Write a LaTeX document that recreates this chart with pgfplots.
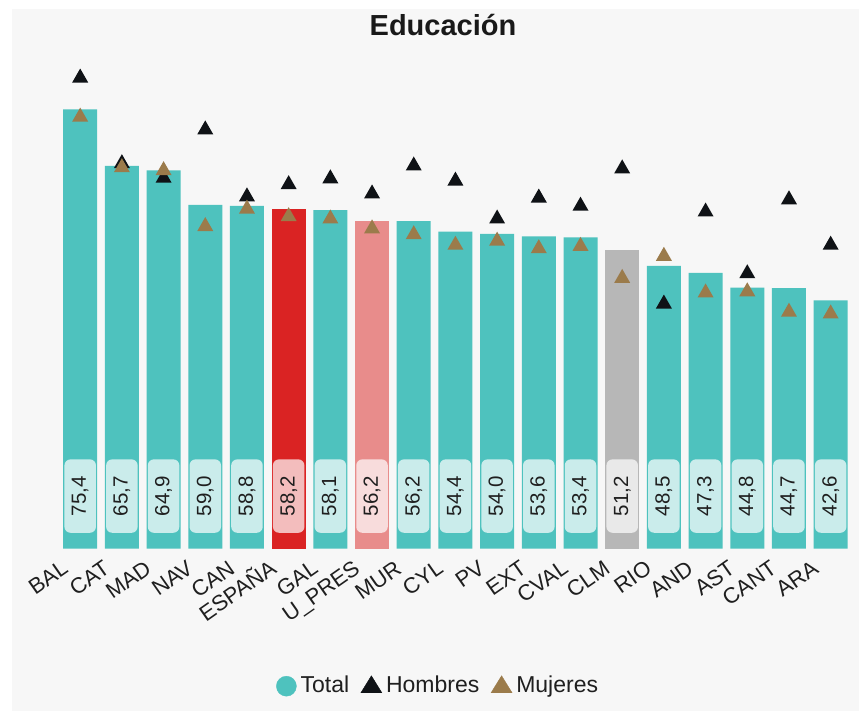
\documentclass[border=0pt]{standalone}
\usepackage{pgfplots}
\pgfplotsset{compat=1.18}
\usepackage{pgfplotstable}
\usepackage{fontspec}
\setmainfont{Liberation Sans}
\definecolor{tealc}{HTML}{4EC2BE}
\definecolor{redc}{HTML}{DA2323}
\definecolor{pinkc}{HTML}{E88C8B}
\definecolor{grayc}{HTML}{B7B7B7}
\definecolor{panel}{HTML}{F7F7F7}
\definecolor{hcol}{HTML}{0F1216}
\definecolor{mcol}{HTML}{9B7B4B}
\definecolor{txt}{HTML}{1F1F1F}
\pgfdeclareplotmark{htri}{%
  \pgfpathmoveto{\pgfqpoint{0pt}{7pt}}%
  \pgfpathlineto{\pgfqpoint{8pt}{-7pt}}%
  \pgfpathlineto{\pgfqpoint{-8pt}{-7pt}}%
  \pgfpathclose\pgfusepathqfill}
\pgfplotstableread{
x total hombres mujeres ly lab
0  75.4 81.2 74.5 9.0 75,4
1  65.7 66.5 65.8 9.0 65,7
2  64.9 64.0 65.3 9.0 64,9
3  59.0 72.3 55.7 9.0 59,0
4  58.8 60.8 58.7 9.0 58,8
5  58.2 62.9 57.4 9.0 58,2
6  58.1 63.9 57.0 9.0 58,1
7  56.2 61.3 55.3 9.0 56,2
8  56.2 66.1 54.3 9.0 56,2
9  54.4 63.5 52.5 9.0 54,4
10 54.0 57.0 53.2 9.0 54,0
11 53.6 60.6 51.9 9.0 53,6
12 53.4 59.2 52.3 9.0 53,4
13 51.2 65.6 46.8 9.0 51,2
14 48.5 42.4 50.6 9.0 48,5
15 47.3 58.2 44.3 9.0 47,3
16 44.8 47.6 44.5 9.0 44,8
17 44.7 60.3 41.0 9.0 44,7
18 42.6 52.5 40.7 9.0 42,6
}\datatab
\begin{document}
\begin{tikzpicture}
\fill[white] (-59.35pt,-163.5pt) rectangle (799.65pt,548.5pt);
\fill[panel] (-47.35pt,-162.5pt) rectangle (799.65pt,539.5pt);
\begin{axis}[
  at={(0pt,0pt)}, anchor=south west,
  scale only axis, width=792.15pt, height=495.125pt,
  xmin=-0.5, xmax=18.5, ymin=0, ymax=85,
  clip=false,
  axis line style={draw=none},
  tick style={draw=none},
  major tick length=0pt,
  ytick=\empty,
  xtick={0,...,18},
  xticklabels={BAL,CAT,MAD,NAV,CAN,ESPAÑA,GAL,U\_PRES,MUR,CYL,PV,EXT,CVAL,CLM,RIO,AND,AST,CANT,ARA},
  xticklabel style={font=\fontsize{22}{26}\selectfont, text=txt, inner sep=0pt,
    text height=16pt, text depth=0pt, anchor=north east,
    xshift=-20pt, yshift=-10pt, rotate=35},
  title={Educación},
  title style={at={(0.4843,1.0372)}, anchor=base, yshift=-6.5pt, font=\fontsize{29}{34}\selectfont\bfseries, text=black!90},
  legend columns=3,
  legend style={at={(0.2735,-0.2777)}, anchor=west, draw=none, fill=none, inner sep=0pt,
    font=\fontsize{23}{27}\selectfont, text=txt,
    cells={anchor=base west},
    nodes={inner sep=0pt},
    /tikz/every odd column/.append style={column sep=4pt},
    /tikz/every even column/.append style={column sep=11.5pt}},
]
\addlegendimage{legend image code/.code={\fill[tealc] (10pt,6.6pt) circle (10pt);}}
\addlegendentry{Total}
\addlegendimage{legend image code/.code={\fill[hcol] (0pt,0pt) -- (21pt,0pt) -- (10.5pt,17pt) -- cycle;}}
\addlegendentry{Hombres}
\addlegendimage{legend image code/.code={\fill[mcol] (0pt,0pt) -- (21pt,0pt) -- (10.5pt,17pt) -- cycle;}}
\addlegendentry{Mujeres}
% bars
\addplot[forget plot, ybar, bar width=34pt, bar shift=0pt, fill=tealc, draw=none] coordinates {
(0,75.4) (1,65.7) (2,64.9) (3,59.0) (4,58.8) (6,58.1) (8,56.2) (9,54.4) (10,54.0)
(11,53.6) (12,53.4) (14,48.5) (15,47.3) (16,44.8) (17,44.7) (18,42.6)};
\addplot[forget plot, ybar, bar width=34pt, bar shift=0pt, fill=redc, draw=none] coordinates {(5,58.2)};
\addplot[forget plot, ybar, bar width=34pt, bar shift=0pt, fill=pinkc, draw=none] coordinates {(7,56.2)};
\addplot[forget plot, ybar, bar width=34pt, bar shift=0pt, fill=grayc, draw=none] coordinates {(13,51.2)};
% value labels
\addplot[forget plot, draw=none, nodes near coords, point meta=explicit symbolic,
  nodes near coords style={rotate=90, anchor=center, fill=white, fill opacity=0.7, text opacity=1,
    rounded corners=6pt, minimum width=73.4pt, minimum height=31.5pt, inner sep=0pt,
    font=\fontsize{20.5}{24}\selectfont, text=txt}]
  table[x=x, y=ly, meta=lab]{\datatab};
% markers
\addplot[forget plot, only marks, mark=htri, color=hcol] table[x=x, y=hombres]{\datatab};
\addplot[forget plot, only marks, mark=htri, color=mcol] table[x=x, y=mujeres]{\datatab};
\end{axis}
\pgfresetboundingbox
\path[use as bounding box] (-59.35pt,-163.5pt) rectangle (799.65pt,548.5pt);
\end{tikzpicture}
\end{document}
